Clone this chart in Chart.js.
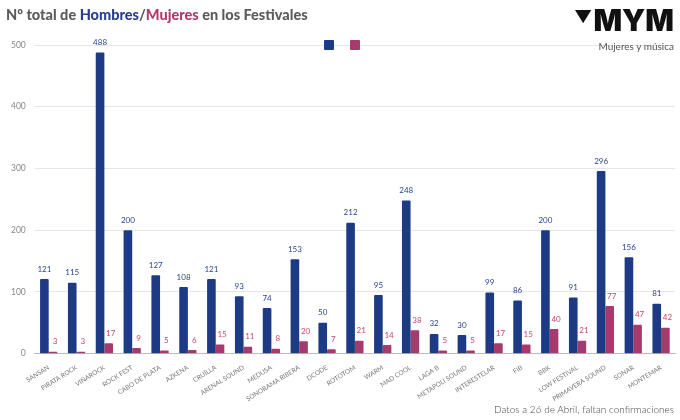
<!DOCTYPE html>
<html>
<head>
<meta charset="utf-8">
<script src="https://cdn.jsdelivr.net/npm/chart.js@4"></script>
<style>
  html, body { margin: 0; padding: 0; background: #fff; }
  #wrap { position: relative; width: 680px; height: 420px; font-family: "Lato", "Open Sans", sans-serif; }
  #title { position: absolute; left: 6px; top: 6px; font-size: 14.5px; font-weight: 900; color: #5c5c5c; }
  #title .h { color: #2a3f8f; }
  #title .m { color: #b03a6e; }
  #logo { position: absolute; right: 6px; top: 2px; font-size: 30px; font-weight: 900; color: #111; font-family: "Inter", "Lato", sans-serif; }
  #logo .tri { font-size: 17px; vertical-align: 8px; margin-right: 1px; }
  #sub { position: absolute; right: 6px; top: 40px; font-size: 10px; color: #555; }
  #note { position: absolute; right: 6px; top: 403px; font-size: 10px; color: #444; font-weight: 300; }
  .sq { position: absolute; top: 40px; width: 10px; height: 10px; border-radius: 1px; }
  canvas { position: absolute; left: 0; top: 0; }
</style>
</head>
<body>
<div id="wrap">
  <canvas id="chart" width="680" height="420"></canvas>
  <div id="title">Nº total de <span class="h">Hombres</span>/<span class="m">Mujeres</span> en los Festivales</div>
  <div id="logo"><span class="tri">▼</span>MYM</div>
  <div id="sub">Mujeres y música</div>
  <span class="sq" style="left:324px;background:#1d3a85"></span>
  <span class="sq" style="left:350px;background:#a63a6c"></span>
  <div id="note">Datos a 26 de Abril, faltan confirmaciones</div>
</div>
<script>
// ===== Data =====
const festivales = ['SANSAN', 'PIRATA ROCK', 'VIÑAROCK', 'ROCK FEST', 'CABO DE PLATA', 'AZKENA',
    'CRUÏLLA', 'ARENAL SOUND', 'MEDUSA', 'SONORAMA RIBERA', 'DCODE', 'ROTOTOM', 'WARM',
    'MAD COOL', 'LAGA B', 'METAPOLI SOUND', 'INTERESTELAR', 'FIB', 'BBK', 'LOW FESTIVAL',
    'PRIMAVERA SOUND', 'SONAR', 'MONTEMAR'];
const hombres = [121, 115, 488, 200, 127, 108, 121, 93, 74, 153, 50, 212, 95, 248, 32, 30, 99, 86, 200, 91, 296, 156, 81];
const mujeres = [3, 3, 17, 9, 5, 6, 15, 11, 8, 20, 7, 21, 14, 38, 5, 5, 17, 15, 40, 21, 77, 47, 42];
const yTicks = [0, 100, 200, 300, 400, 500];

const azul = '#1d3a85';
const rosa = '#a63a6c';

// value labels above bars
const valueLabels = {
    id: 'valueLabels',
    afterDatasetsDraw(chart) {
        const ctx = chart.ctx;
        ctx.save();
        ctx.font = '8px "Lato", sans-serif';
        ctx.textAlign = 'center';
        ctx.textBaseline = 'bottom';
        chart.data.datasets.forEach((ds, i) => {
            const meta = chart.getDatasetMeta(i);
            ctx.fillStyle = i === 0 ? '#2a4590' : '#c8456f';
            meta.data.forEach((bar, j) => {
                ctx.fillText(ds.data[j], bar.x + (i === 1 ? 2 : 0), bar.y - 6);
            });
        });
        ctx.restore();
    }
};

function initChart() {
    const ctx = document.getElementById('chart');
    new Chart(ctx, {
        type: 'bar',
        data: {
            labels: festivales,
            datasets: [
                { label: 'Hombres', data: hombres, backgroundColor: azul, borderRadius: 1 },
                { label: 'Mujeres', data: mujeres, backgroundColor: rosa, borderRadius: 1 }
            ]
        },
        options: {
            responsive: false,
            animation: false,
            datasets: { bar: { categoryPercentage: 0.62, barPercentage: 1 } },
            layout: { padding: { top: 45, left: 2, right: 5, bottom: 15 } },
            plugins: {
                legend: { display: false },
                tooltip: { enabled: false }
            },
            scales: {
                y: {
                    min: 0,
                    max: 500,
                    afterBuildTicks: axis => { axis.ticks = yTicks.map(v => ({ value: v })); },
                    grid: { color: '#e6e6e6', drawTicks: false },
                    border: { display: false },
                    ticks: { color: '#888', padding: 9, font: { size: 8.5, family: 'Lato' } }
                },
                x: {
                    grid: { display: false },
                    border: { color: '#bbb' },
                    ticks: {
                        color: '#777',
                        autoSkip: false,
                        minRotation: 32,
                        maxRotation: 32,
                        padding: 2,
                        font: { size: 6.5, family: 'Lato' }
                    }
                }
            }
        },
        plugins: [valueLabels]
    });
}

document.addEventListener('DOMContentLoaded', initChart);
</script>
</body>
</html>
